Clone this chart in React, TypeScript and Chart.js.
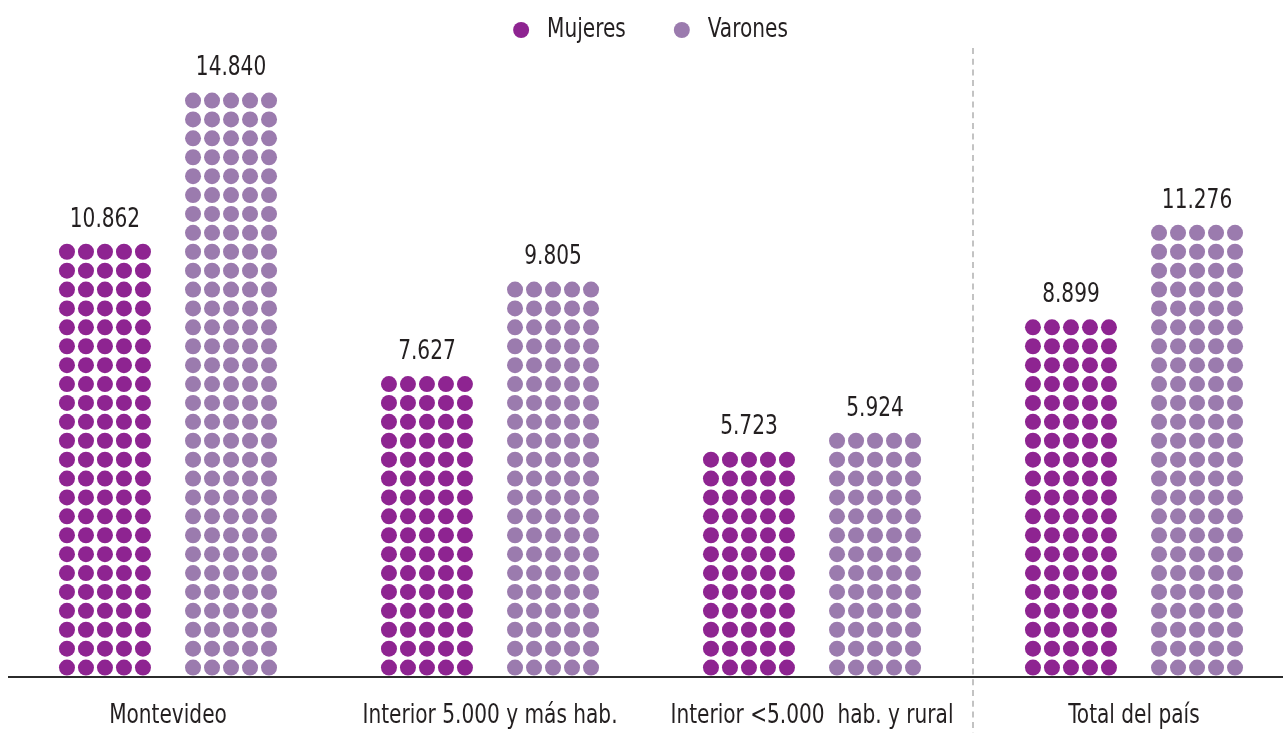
import { useEffect, useRef } from "react";
import { Chart, registerables } from "chart.js";

Chart.register(...registerables);

const categories = [
  "Montevideo",
  "Interior 5.000 y más hab.",
  "Interior <5.000  hab. y rural",
  "Total del país",
];
const mujeres = [10862, 7627, 5723, 8899];
const varones = [14840, 9805, 5924, 11276];
const seriesLabels = ["Mujeres", "Varones"];
const seriesColors = ["#8E2491", "#9B7BAE"];

const FONT = "'DejaVu Sans Condensed', 'DejaVu Sans', sans-serif";
const FONT_SIZE = 26;
const SX = 0.86;
const TEXT = "#231f20";
const PITCH_X = 19;
const PITCH_Y = 18.9;
const RADIUS = 8;
const COLS = 5;

const fmt = (v: number) => String(v).replace(/\B(?=(\d{3})+(?!\d))/g, ".");

function drawText(ctx: CanvasRenderingContext2D, text: string, x: number, y: number, align: CanvasTextAlign) {
  ctx.save();
  ctx.font = `${FONT_SIZE}px ${FONT}`;
  ctx.fillStyle = TEXT;
  ctx.textAlign = align;
  ctx.textBaseline = "middle";
  ctx.translate(x, y);
  ctx.scale(SX, 1);
  ctx.fillText(text, 0, 0);
  ctx.restore();
}

function textWidth(ctx: CanvasRenderingContext2D, text: string) {
  ctx.save();
  ctx.font = `${FONT_SIZE}px ${FONT}`;
  const w = ctx.measureText(text).width * SX;
  ctx.restore();
  return w;
}

const dotsPlugin = {
  id: "dots",
  beforeDatasetDraw() {
    return false;
  },
  afterDatasetsDraw(chart: any) {
    const ctx = chart.ctx as CanvasRenderingContext2D;
    ctx.save();
    chart.data.datasets.forEach((ds: any, di: number) => {
      const meta = chart.getDatasetMeta(di);
      meta.data.forEach((bar: any, i: number) => {
        const { x, y, base } = bar.getProps(["x", "y", "base"], true);
        const rows = Math.max(1, Math.round((base - y) / PITCH_Y));
        ctx.fillStyle = ds.backgroundColor;
        for (let r = 0; r < rows; r++) {
          const cy = base - PITCH_Y / 2 - r * PITCH_Y;
          for (let c = 0; c < COLS; c++) {
            const cx = x + (c - (COLS - 1) / 2) * PITCH_X;
            ctx.beginPath();
            ctx.arc(cx, cy, RADIUS, 0, Math.PI * 2);
            ctx.fill();
          }
        }
        const topY = base - PITCH_Y / 2 - (rows - 1) * PITCH_Y;
        drawText(ctx, fmt(ds.data[i]), x, topY - 32, "center");
      });
    });
    ctx.restore();
  },
};

const decorPlugin = {
  id: "decor",
  afterDraw(chart: any) {
    const ctx = chart.ctx as CanvasRenderingContext2D;
    const area = chart.chartArea;
    const xs = chart.scales.x;
    ctx.save();
    // baseline axis
    ctx.strokeStyle = "#2b2b2b";
    ctx.lineWidth = 2;
    ctx.beginPath();
    ctx.moveTo(area.left + 1, area.bottom);
    ctx.lineTo(chart.width, area.bottom);
    ctx.stroke();
    // category labels
    chart.data.labels.forEach((lab: string, i: number) => {
      drawText(ctx, lab, xs.getPixelForValue(i), area.bottom + 39, "center");
    });
    // dashed separator before last category
    const n = chart.data.labels.length;
    const sepX = (xs.getPixelForValue(n - 2) + xs.getPixelForValue(n - 1)) / 2;
    ctx.strokeStyle = "#b5b5b5";
    ctx.lineWidth = 1.6;
    ctx.setLineDash([6, 4.7]);
    ctx.beginPath();
    ctx.moveTo(sepX, 48);
    ctx.lineTo(sepX, chart.height);
    ctx.stroke();
    ctx.setLineDash([]);
    // legend
    const items = chart.data.datasets.map((ds: any) => ({
      label: ds.label,
      color: ds.backgroundColor,
      w: textWidth(ctx, ds.label),
    }));
    const gapDot = 18;
    const gapItem = 48;
    let total = 0;
    items.forEach((it: any, k: number) => {
      total += RADIUS * 2 + gapDot + it.w + (k < items.length - 1 ? gapItem : 0);
    });
    let lx = (area.left + area.right) / 2 - 0.5 - total / 2;
    const ly = 30;
    items.forEach((it: any) => {
      ctx.fillStyle = it.color;
      ctx.beginPath();
      ctx.arc(lx + RADIUS, ly, RADIUS, 0, Math.PI * 2);
      ctx.fill();
      drawText(ctx, it.label, lx + RADIUS * 2 + gapDot, ly, "left");
      lx += RADIUS * 2 + gapDot + it.w + gapItem;
    });
    ctx.restore();
  },
};

export default function App() {
  const ref = useRef<HTMLCanvasElement>(null);
  useEffect(() => {
    document.body.style.margin = "0";
    document.body.style.overflow = "hidden";
    document.documentElement.style.overflow = "hidden";
    const chart = new Chart(ref.current as HTMLCanvasElement, {
      type: "bar",
      data: {
        labels: categories,
        datasets: [
          { label: seriesLabels[0], data: mujeres, backgroundColor: seriesColors[0] },
          { label: seriesLabels[1], data: varones, backgroundColor: seriesColors[1] },
        ],
      },
      options: {
        responsive: false,
        animation: false,
        devicePixelRatio: 1,
        layout: { padding: { top: 60, left: 7, right: 0, bottom: 0 } },
        plugins: { legend: { display: false }, tooltip: { enabled: false } },
        datasets: { bar: { categoryPercentage: 0.783, barPercentage: 0.6 } },
        scales: {
          x: {
            grid: { display: false, drawTicks: false, tickLength: 0 },
            border: { display: false },
            ticks: { display: false, autoSkip: false },
            afterFit: (s: any) => {
              s.height = 56;
            },
          },
          y: { display: false, min: 0, max: 15425 },
        },
      },
      plugins: [dotsPlugin, decorPlugin],
    });
    return () => chart.destroy();
  }, []);
  return (
    <div style={{ width: 1295, height: 733, position: "relative" }}>
      <canvas ref={ref} width={1295} height={733} style={{ display: "block" }} />
    </div>
  );
}
